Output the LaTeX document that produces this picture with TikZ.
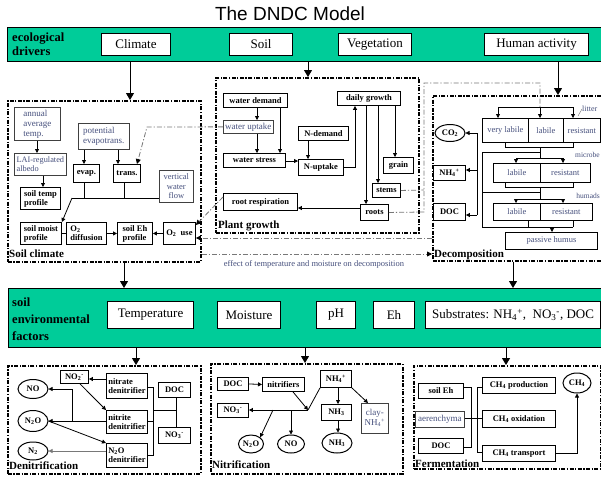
\documentclass[tikz,border=0pt]{standalone}
\usepackage{fontspec}
\setmainfont{Liberation Serif}
\newfontfamily\titlefont{Liberation Sans}
\usetikzlibrary{arrows.meta,calc,shapes.geometric}
\definecolor{bandgreen}{RGB}{0,204,153}
\definecolor{bluegray}{RGB}{70,80,125}
\definecolor{lgray}{RGB}{120,120,120}
\newcommand\nbox[7]{\pgfmathsetmacro\nbw{#4-#2}\pgfmathsetmacro\nbh{#5-#3}%
  \node[#6, anchor=north west, minimum width=\nbw pt, minimum height=\nbh pt] (#1) at (#2,#3) {#7};}
\tikzset{
 bandst/.style={draw, line width=0.9pt, fill=bandgreen, inner sep=0pt},
 bigbx/.style={draw, line width=1pt, fill=white, inner sep=0pt, font=\fontsize{13}{14}\selectfont},
 panel/.style={draw, line width=1.7pt, dash pattern=on 4pt off 1.5pt on 1.2pt off 1.5pt, inner sep=0pt},
 bx/.style={draw, line width=0.9pt, fill=white, inner sep=0pt, align=center, font=\bfseries\fontsize{8.5}{9}\selectfont},
 bxl/.style={bx, align=left},
 gbx/.style={draw=black!75, line width=0.7pt, fill=white, inner sep=0pt, align=left, text=bluegray, font=\fontsize{9}{10}\selectfont},
 cell/.style={draw, line width=0.8pt, fill=white, inner sep=0pt, text=bluegray, font=\fontsize{8.5}{9}\selectfont},
 el/.style={ellipse, draw, line width=1pt, inner sep=0pt, fill=white, font=\bfseries\fontsize{8.5}{9}\selectfont},
 gtext/.style={text=bluegray, inner sep=0pt, font=\fontsize{8}{9}\selectfont},
 plabel/.style={inner sep=0pt, font=\bfseries\fontsize{11}{12}\selectfont},
 ln/.style={line width=0.8pt},
 arr/.style={ln, -{Triangle[length=4pt,width=4pt]}},
 bigarr/.style={line width=1pt, -{Triangle[length=7pt,width=8pt]}},
 dd/.style={draw=lgray, line width=0.8pt, dash pattern=on 5pt off 2pt on 1.2pt off 2pt},
 ddarr/.style={dd, -{Triangle[length=5pt,width=5pt,color=black,fill=black]}},
}
\begin{document}
\begin{tikzpicture}[x=1pt,y=-1pt]
\useasboundingbox (0,0) rectangle (601,477);
\fill[white] (0,0) rectangle (601,477);

% title
\node[font=\titlefont\fontsize{19}{20}\selectfont] (title) at (290,14) {The DNDC Model};

% band 1
\nbox{drivers}{7}{27}{600.5}{61}{bandst}{}
\node[anchor=west, align=left, inner sep=0pt, font=\bfseries\fontsize{12.5}{14.5}\selectfont] (drvlbl) at (12,44) {ecological\\drivers};
\nbox{climate}{101}{33}{170}{55}{bigbx}{Climate}
\nbox{soil}{229}{33}{292}{55}{bigbx}{Soil}
\nbox{veg}{338}{33}{411}{55}{bigbx}{Vegetation}
\nbox{human}{484}{33}{588}{55}{bigbx}{Human activity}

% band 2
\nbox{envf}{8}{288}{600.5}{347}{bandst}{}
\node[anchor=west, align=left, inner sep=0pt, font=\bfseries\fontsize{12.5}{17}\selectfont] (envlbl) at (12,319) {soil\\environmental\\factors};
\nbox{temp}{107}{301}{193}{328}{bigbx}{Temperature}
\nbox{moist}{217}{301}{280}{328}{bigbx}{Moisture}
\nbox{ph}{316}{301}{355}{328}{bigbx}{pH}
\nbox{eh}{373}{301}{414}{328}{bigbx}{Eh}
\nbox{subs}{425}{301}{600}{328}{bigbx}{Substrates: NH\textsubscript{4}\textsuperscript{+}, \ NO\textsubscript{3}\textsuperscript{-}, DOC}

% panels
\nbox{sclim}{7}{100}{200}{261}{panel}{}
\nbox{pgrow}{215}{77}{418}{232}{panel}{}
\nbox{decomp}{432}{95}{610}{260}{panel}{}
\nbox{denit}{7}{365}{200}{473}{panel}{}
\nbox{nitrif}{210}{363}{402}{473}{panel}{}
\nbox{ferm}{413}{365}{600}{468}{panel}{}
\node[plabel, anchor=base west] (sclimL) at (9,257) {Soil climate};
\node[plabel, anchor=base west] (pgrowL) at (218,228) {Plant growth};
\node[plabel, anchor=base west] (decompL) at (434,257) {Decomposition};
\node[plabel, anchor=base west] (denitL) at (9,469) {Denitrification};
\node[plabel, anchor=base west] (nitrifL) at (212,468) {Nitrification};
\node[plabel, anchor=base west] (fermL) at (415,467) {Fermentation};

% band connectors
\draw[bigarr] (drivers.south -| 130,0) -- (sclim.north -| 130,0);
\draw[bigarr] (drivers.south -| 308,0) -- (pgrow.north -| 308,0);
\draw[bigarr] (drivers.south -| 558,0) -- (decomp.north -| 558,0);
\draw[bigarr] (sclim.south -| 124,0) -- (envf.north -| 124,0);
\draw[bigarr] (decomp.south -| 513,0) -- (envf.north -| 513,0);
\draw[bigarr] (envf.south -| 136,0) -- (denit.north -| 136,0);
\draw[bigarr] (envf.south -| 305,0) -- (nitrif.north -| 305,0);
\draw[bigarr] (envf.south -| 506,0) -- (ferm.north -| 506,0);
\draw[ddarr] (sclim.east |- 0,254) -- (decomp.west |- 0,254);
\node[gtext, font=\fontsize{8.5}{9}\selectfont] (efflbl) at (314,264) {effect of temperature and moisture on decomposition};

% soil climate contents
\nbox{annual}{14}{107}{60}{140}{gbx}{annual\\average\\temp.}
\nbox{lai}{14}{153}{66}{175}{gbx, font=\fontsize{8.3}{9.5}\selectfont}{LAI-regulated\\albedo}
\nbox{pot}{78}{123}{129}{149}{gbx}{potential\\evapotrans.}
\nbox{evap}{73}{164}{99}{182}{bx}{evap.}
\nbox{trans}{113}{164}{140}{182}{bx}{trans.}
\nbox{vwf}{159}{170}{193}{202}{gbx, align=center, font=\fontsize{8.5}{9.5}\selectfont}{vertical\\water\\flow}
\nbox{stemp}{20}{187}{60}{209}{bxl}{soil temp\\profile}
\nbox{smoist}{20}{222}{61}{244}{bxl}{soil moist\\profile}
\nbox{o2dif}{66}{222}{106}{244}{bxl}{O\textsubscript{2}\\diffusion}
\nbox{sehp}{117}{222}{152}{244}{bxl}{soil Eh\\profile}
\nbox{o2use}{163}{222}{195}{244}{bx}{O\textsubscript{2}\ \ use}
\draw[arr] (annual.south -| 37,0) -- (lai.north -| 37,0);
\draw[arr] (lai.south -| 43,0) -- (stemp.north -| 43,0);
\draw[arr] (pot.south -| 84,0) -- (evap.north -| 84,0);
\draw[arr] (pot.south -| 118,0) -- (trans.north -| 118,0);
\draw[ln] (evap.south -| 84,0) -- (84,198);
\draw[ln] (trans.south -| 124,0) -- (124,198);
\draw[ln] (vwf.west |- 0,198) -- (72,198);
\draw[arr] (72,198) -- (smoist.north east);
\draw[ln] (smoist.east) -- (o2dif.west);
\draw[arr] (o2dif.east) -- (sehp.west);
\draw[arr] (o2use.west) -- (sehp.east);

% plant growth contents
\nbox{wdem}{223}{93}{287}{107}{bx}{water demand}
\nbox{wupt}{223}{120}{273}{133}{gbx}{water uptake}
\nbox{wstr}{223}{153}{285}{167}{bx}{water stress}
\nbox{ndem}{298}{126}{348}{140}{bx}{N-demand}
\nbox{nupt}{298}{159}{343}{175}{bx}{N-uptake}
\nbox{dgr}{337}{91}{400}{105}{bx}{daily growth}
\nbox{grain}{383}{157}{413}{173}{bx}{grain}
\nbox{stems}{372}{183}{400}{197}{bx}{stems}
\nbox{roots}{360}{204}{388}{220}{bx}{roots}
\nbox{rresp}{223}{193}{297}{210}{bx}{root respiration}
\draw[arr] (wdem.south -| 257,0) -- (wupt.north -| 257,0);
\draw[arr] (wdem.south -| 280,0) -- (wstr.north -| 280,0);
\draw[arr] (wupt.south -| 257,0) -- (wstr.north -| 257,0);
\draw[arr] (wstr.east |- 0,161) -- (nupt.west |- 0,161);
\draw[arr] (ndem.south -| 308,0) -- (nupt.north -| 308,0);
\draw[arr] (nupt.east) -| (dgr.south -| 355,0);
\draw[arr] (dgr.south -| 395,0) -- (grain.north -| 395,0);
\draw[arr] (dgr.south -| 378,0) -- (stems.north -| 378,0);
\draw[arr] (dgr.south -| 366,0) -- (roots.north -| 366,0);
\draw[arr] (roots.west |- 0,208) -- (rresp.east |- 0,208);

% dash-dot cross links
\draw[ddarr] (wupt.west) -- (147,127) -- (trans.north -| 137,0);
\draw[ddarr] (rresp.west |- 0,197) -- (o2use.east |- 0,225);
\draw[ddarr] (decomp.west |- 0,238) -- (o2use.east |- 0,238);
\draw[dd] (stems.east) -- (424,190);
\draw[dd] (roots.east) -- (424,212) -- (424,83) -- (540,83) -- (540,107);

% decomposition contents
\node[el, minimum width=30pt, minimum height=17pt] (co2) at (450,133) {CO\textsubscript{2}};
\nbox{nh4d}{433}{165}{465}{180}{bx}{NH\textsubscript{4}\textsuperscript{+}}
\nbox{docd}{433}{203}{465}{220}{bx}{DOC}
\draw[ln] (477,133) -- (477,215);
\draw[arr] (477,133) -- (co2.east);
\draw[arr] (477,170) -- (nh4d.east |- 0,170);
\draw[arr] (477,215) -- (docd.east |- 0,215);

\nbox{vlab}{482}{118}{528}{142}{cell}{very labile}
\nbox{llab}{528}{118}{563}{142}{cell}{labile}
\nbox{lres}{563}{118}{600}{142}{cell}{resistant}
\node[gtext, anchor=west] (litl) at (582,109) {litter};
\draw[lgray, line width=0.4pt] (578,116) -- (litl.west);
\draw[ln] (498,107) -- (573,107);
\draw[arr] (498,107) -- (vlab.north -| 498,0);
\draw[arr] (540,107) -- (llab.north -| 540,0);
\draw[arr] (573,107) -- (lres.north -| 573,0);

\nbox{mlab}{493}{163}{540}{182}{cell}{labile}
\nbox{mres}{540}{163}{590}{182}{cell}{resistant}
\node[gtext, anchor=east, font=\fontsize{7.5}{8}\selectfont] (micl) at (600,155) {microbe};
\nbox{hlab}{493}{203}{540}{220}{cell}{labile}
\nbox{hres}{540}{203}{592}{220}{cell}{resistant}
\node[gtext, anchor=east, font=\fontsize{7.5}{8}\selectfont] (huml) at (600,196) {humads};
\nbox{passive}{505}{232}{597}{249}{cell}{passive humus}

\draw[ln] (vlab.south -| 505,0) -- (505,147) -- (573,147) -- (lres.south -| 573,0);
\draw[ln] (540,147) -- (540,158);
\draw[ln] (482,152) -- (540,152);
\draw[ln] (516,158) -- (563,158);
\draw[arr] (516,158) -- (mlab.north -| 516,0);
\draw[arr] (563,158) -- (mres.north -| 563,0);
\draw[ln] (mlab.south -| 505,0) -- (505,187) -- (573,187) -- (mres.south -| 573,0);
\draw[ln] (540,187) -- (540,199);
\draw[ln] (482,192) -- (540,192);
\draw[ln] (516,199) -- (563,199);
\draw[arr] (516,199) -- (hlab.north -| 516,0);
\draw[arr] (563,199) -- (hres.north -| 563,0);
\draw[ln] (hlab.south -| 528,0) -- (528,227);
\draw[ln] (hres.south -| 573,0) -- (573,227);
\draw[ln] (482,227) -- (573,227);
\draw[ln] (482,152) -- (482,227);
\draw[arr] (552,227) -- (passive.north -| 552,0);

% denitrification
\node[el, minimum width=30pt, minimum height=19pt] (no) at (33,389) {NO};
\node[el, minimum width=30pt, minimum height=21pt] (n2o) at (33,421) {N\textsubscript{2}O};
\node[el, minimum width=30pt, minimum height=18pt] (n2) at (33,451) {N\textsubscript{2}};
\nbox{no2}{60}{370}{88}{383}{bx}{NO\textsubscript{2}\textsuperscript{-}}
\nbox{ntd}{106}{373}{147}{398}{bxl}{nitrate\\denitrifier}
\nbox{nid}{106}{410}{147}{433}{bxl}{nitrite\\denitrifier}
\nbox{n2od}{106}{443}{147}{467}{bxl}{N\textsubscript{2}O\\denitrifier}
\nbox{docn}{158}{382}{190}{397}{bx}{DOC}
\nbox{no3}{158}{427}{190}{443}{bx}{NO\textsubscript{3}\textsuperscript{-}}
\draw[arr] (ntd.west |- 0,379) -- (no2.east |- 0,379);
\draw[arr] (no2.south -| 80,0) -- (nid.north west);
\draw[arr] (nid.west |- n2o.east) -- (n2o.east);
\draw[arr] (72,421) |- (no.east);
\draw[arr] (n2o.east) -- (n2od.north west);
\draw[arr, lgray] (n2od.west |- n2.east) -- (n2.east);
\draw[ln] (ntd.east |- 0,387) -- (153,387) -- (153,455) -- (n2od.east |- 0,455);
\draw[ln] (nid.east |- 0,421) -- (153,421);
\draw[ln] (153,410) -- (176,410);
\draw[ln] (docn.south -| 176,0) -- (no3.north -| 176,0);

% nitrification
\nbox{docm}{217}{377}{248}{390}{bx}{DOC}
\nbox{nitrf}{262}{377}{304}{391}{bx}{nitrifiers}
\nbox{nh4m}{320}{370}{351}{387}{bx}{NH\textsubscript{4}\textsuperscript{+}}
\nbox{no3m}{217}{403}{248}{417}{bx}{NO\textsubscript{3}\textsuperscript{-}}
\node[el, minimum width=25pt, minimum height=18pt] (n2om) at (251,444) {N\textsubscript{2}O};
\node[el, minimum width=27pt, minimum height=18pt] (nom) at (291,444) {NO};
\nbox{nh3b}{321}{404}{351}{420}{bx}{NH\textsubscript{3}}
\node[el, minimum width=30pt, minimum height=20pt] (nh3e) at (337,443) {NH\textsubscript{3}};
\nbox{clay}{361}{403}{388}{433}{gbx, align=center}{clay-\\NH\textsubscript{4}\textsuperscript{+}}
\coordinate (jn) at (308,410);
\draw[arr] (docm.east) -- (nitrf.west);
\draw[arr] (nitrf.south -| 293,0) -- (jn);
\draw[ln] (nh4m.south west) -- (jn);
\draw[arr] (jn) -- (no3m.east |- jn);
\draw[arr] (273,410) -- (n2om.north east);
\draw[arr] (nom.north |- jn) -- (nom.north);
\draw[arr] (nh4m.south -| 338,0) -- (nh3b.north -| 338,0);
\draw[arr] (nh4m.south east) -- (clay.north -| 368,0);
\draw[arr] (nh3b.south -| 338,0) -- (nh3e.north -| 338,0);

% fermentation
\nbox{seh}{418}{383}{463}{398}{bx}{soil Eh}
\nbox{aer}{415}{411}{464}{427}{gbx}{aerenchyma}
\nbox{docf}{418}{438}{463}{453}{bx}{DOC}
\nbox{ch4p}{482}{377}{555}{393}{bx}{CH\textsubscript{4} production}
\nbox{ch4o}{482}{410}{555}{427}{bx}{CH\textsubscript{4} oxidation}
\nbox{ch4t}{482}{445}{555}{461}{bx}{CH\textsubscript{4} transport}
\node[el, minimum width=28pt, minimum height=20pt] (ch4e) at (577,383) {CH\textsubscript{4}};
\draw[ln] (seh.east |- 0,387) -- (471,387) -- (471,447) -- (docf.east |- 0,447);
\draw[ln] (ch4p.west |- 0,387) -- (477,387) -- (477,452) -- (ch4t.west |- 0,452);
\draw[ln] (aer.east |- 0,418) -- (ch4o.west |- 0,418);
\draw[arr] (ch4t.east) -| (ch4e.south);
\end{tikzpicture}
\end{document}
